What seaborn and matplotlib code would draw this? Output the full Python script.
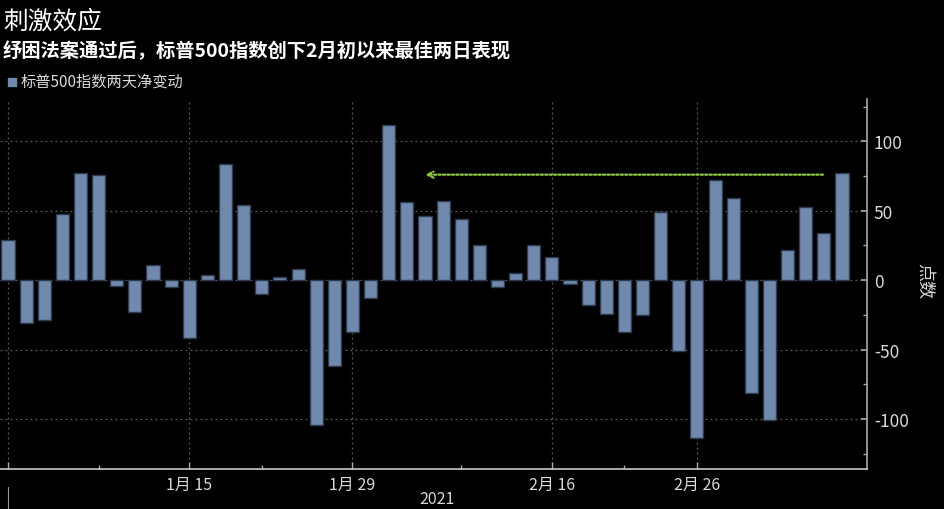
import matplotlib
matplotlib.use("Agg")
import matplotlib.pyplot as plt
import seaborn as sns
import pandas as pd
from matplotlib.ticker import FixedLocator

# ---- data ----
dates = ["2020-12-31",
         "2021-01-04", "2021-01-05", "2021-01-06", "2021-01-07", "2021-01-08",
         "2021-01-11", "2021-01-12", "2021-01-13", "2021-01-14", "2021-01-15",
         "2021-01-19", "2021-01-20", "2021-01-21", "2021-01-22",
         "2021-01-25", "2021-01-26", "2021-01-27", "2021-01-28", "2021-01-29",
         "2021-02-01", "2021-02-02", "2021-02-03", "2021-02-04", "2021-02-05",
         "2021-02-08", "2021-02-09", "2021-02-10", "2021-02-11", "2021-02-12",
         "2021-02-16", "2021-02-17", "2021-02-18", "2021-02-19",
         "2021-02-22", "2021-02-23", "2021-02-24", "2021-02-25", "2021-02-26",
         "2021-03-01", "2021-03-02", "2021-03-03", "2021-03-04", "2021-03-05",
         "2021-03-08", "2021-03-09", "2021-03-10"]
net_change = [29, -31, -29, 48, 77, 76, -4, -23, 11, -5, -42, 4, 84, 54, -10, 2, 8,
              -104, -62, -37, -13, 112, 56, 46, 57, 44, 25, -5, 5, 25, 17, -3, -18,
              -24, -37, -25, 49, -51, -114, 72, 59, -81, -101, 22, 53, 34, 77]
tick_dates = ["2020-12-31", "2021-01-15", "2021-01-29", "2021-02-16", "2021-02-26"]
tick_labels = ["", "1月 15", "1月 29", "2月 16", "2月 26"]
minor_tick_dates = ["2021-01-08", "2021-01-22", "2021-02-08", "2021-02-22"]
arrow_from = "2021-03-09"
arrow_to = "2021-02-04"
arrow_level = 76
year_label = "2021"
title = "刺激效应"
subtitle = "纾困法案通过后，标普500指数创下2月初以来最佳两日表现"
legend_label = "标普500指数两天净变动"
ylabel = "点数"

df = pd.DataFrame({"date": dates, "change": net_change})

# ---- style ----
sns.set_theme(style="dark")
plt.rcParams["font.family"] = ["Noto Sans CJK SC", "DejaVu Sans"]
plt.rcParams["axes.unicode_minus"] = False

BG = "#000000"
BAR = "#7089AD"
EDGE = "#2E3A50"
TXT = "#D9D9D9"
GRID = "#5a5a5a"
AXIS = "#A8A8A8"

fig = plt.figure(figsize=(9.45, 5.10), dpi=100, facecolor=BG)
ax = fig.add_axes([0.0, 1 - 470 / 510, 867 / 945, (470 - 100) / 510])
ax.set_facecolor(BG)

sns.barplot(data=df, x="date", y="change", color=BAR, edgecolor=EDGE,
            linewidth=1.0, width=0.72, saturation=1, ax=ax)

pos = {d: i for i, d in enumerate(dates)}
ax.set_xlim(-0.44, len(dates) - 1 + 1.38)
ax.set_ylim(-136, 130.5)

# x ticks
ax.xaxis.set_major_locator(FixedLocator([pos[d] for d in tick_dates]))
ax.set_xticklabels(tick_labels)
ax.xaxis.set_minor_locator(FixedLocator([pos[d] for d in minor_tick_dates]))
ax.tick_params(axis="x", which="both", direction="in", colors=AXIS, labelcolor=TXT,
               labelsize=11.5, pad=5, bottom=True)
ax.tick_params(axis="x", which="major", length=5, width=1)
ax.tick_params(axis="x", which="minor", length=3, width=1)

# y axis on right
ax.yaxis.tick_right()
ax.yaxis.set_major_locator(FixedLocator([-100, -50, 0, 50, 100]))
ax.yaxis.set_minor_locator(FixedLocator([-125, -75, -25, 25, 75, 125]))
ax.tick_params(axis="y", which="both", direction="in", colors=AXIS, labelcolor=TXT,
               labelsize=12.5, pad=5, right=True, left=False)
ax.tick_params(axis="y", which="major", length=4, width=1.2)
ax.tick_params(axis="y", which="minor", length=3, width=1)
ax.set_yticklabels(["-100", "-50", "0", "50", "100"])
ax.set_xlabel("")
ax.set_ylabel("")

for side in ["top", "left"]:
    ax.spines[side].set_visible(False)
ax.spines["right"].set_color(AXIS)
ax.spines["bottom"].set_color("#C8C8C8")
ax.spines["right"].set_linewidth(1.2)
ax.spines["bottom"].set_linewidth(1.2)

ax.grid(True, which="major", axis="both", color=GRID, linestyle=(0, (1.5, 2.5)), linewidth=0.9)
ax.set_axisbelow(True)

# arrow
ax.annotate("", xy=(pos[arrow_to], arrow_level), xytext=(pos[arrow_from] - 0.05, arrow_level),
            arrowprops=dict(arrowstyle="->", color="#8DC63F", linestyle=(0, (1, 1)),
                            linewidth=1.6, mutation_scale=11, shrinkA=0, shrinkB=0))

# texts
fig.text(3 / 945, 1 - 22 / 510, title, color="white", fontsize=17.8, va="center", ha="left")
fig.text(3 / 945, 1 - 51 / 510, subtitle, color="white", fontsize=13.9, fontweight="bold",
         va="center", ha="left")
fig.patches.append(plt.Rectangle((8 / 945, 1 - 87 / 510), 8 / 945, 8 / 510,
                                 transform=fig.transFigure, color=BAR))
fig.text(21 / 945, 1 - 82 / 510, legend_label, color=TXT, fontsize=11, va="center", ha="left")
fig.text(925 / 945, 1 - 281 / 510, ylabel, color=TXT, fontsize=13, rotation=270,
         va="center", ha="center")
fig.text(437 / 945, 1 - 500 / 510, year_label, color=TXT, fontsize=11.5, va="center", ha="center")
# year separator
fig.add_artist(plt.Line2D([8 / 945, 8 / 945], [0, 1 - 488 / 510], transform=fig.transFigure,
                          color="#9a9a9a", linewidth=0.8))

fig.savefig("out.png", dpi=100, facecolor=BG)
